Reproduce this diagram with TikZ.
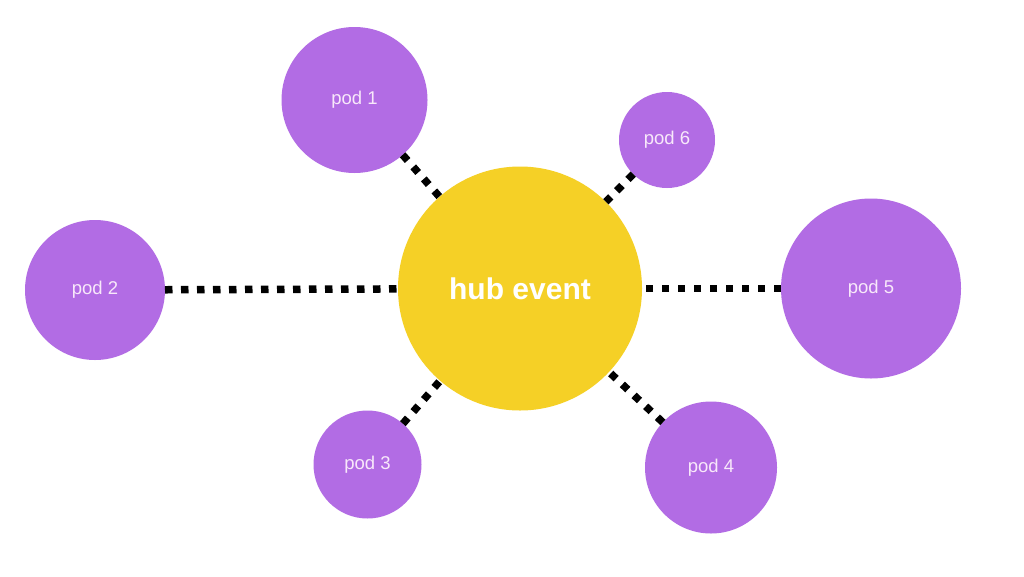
\documentclass[tikz,border=0pt]{standalone}
\usepackage{fontspec}
\setmainfont{Liberation Sans}
\definecolor{podpurple}{HTML}{B26CE4}
\definecolor{hubyellow}{HTML}{F5D026}
\definecolor{podtext}{HTML}{F8E8FA}
\begin{document}
\begin{tikzpicture}[x=1pt,y=-1pt,
  pod/.style={circle,fill=podpurple,inner sep=0pt,outer sep=0pt,text=podtext,font=\fontsize{18.5}{22}\selectfont},
  hubnode/.style={circle,fill=hubyellow,inner sep=0pt,outer sep=0pt,text=white,font=\fontsize{30}{36}\selectfont\bfseries},
  link/.style={line width=7.5pt,black,dash pattern=on 7.5pt off 8.5pt}]
\useasboundingbox[fill=white] (0,0) rectangle (1024,576);
\node[hubnode,minimum size=244pt] (hub) at (520,288.5) {hub event};
\node[pod,minimum size=146pt] (pod1) at (354.5,100) {pod 1};
\node[pod,minimum size=140pt] (pod2) at (95,290) {pod 2};
\node[pod,minimum size=108pt] (pod3) at (367.5,464.5) {pod 3};
\node[pod,minimum size=132pt] (pod4) at (711,467.5) {pod 4};
\node[pod,minimum size=180pt] (pod5) at (871,288.5) {pod 5};
\node[pod,minimum size=96pt] (pod6) at (667,140) {pod 6};
\draw[link] (pod1) -- (hub);
\draw[link] (pod2) -- (hub);
\draw[link] (pod3) -- (hub);
\draw[link] (pod4) -- (hub);
\draw[link] (pod5) -- (hub);
\draw[link] (pod6) -- (hub);
\end{tikzpicture}
\end{document}
